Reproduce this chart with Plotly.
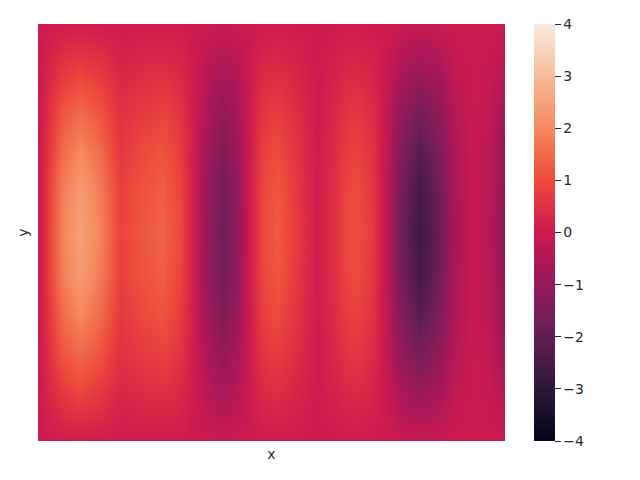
import plotly.graph_objects as go

# positions along each axis
x_grid = [0, 12, 24, 42, 62, 82, 102, 125, 142, 157, 169, 185, 200, 212, 224, 239, 254, 279, 297, 309, 320, 335, 350, 362, 382, 402, 415, 435, 452, 467]
y_grid = [0, 26, 56, 91, 126, 166, 208, 251, 291, 326, 361, 391, 417]

row_edge = [-0.01, 0.03, 0.06, 0.08, 0.06, 0.03, 0.03, 0.04, 0.03, 0.0, -0.03, -0.05, -0.03, 0.0, 0.03, 0.04, 0.03, 0.0, 0.02, 0.03, 0.03, 0.02, -0.01, -0.05, -0.08, -0.05, -0.02, 0.0, -0.01, -0.04]
row_a = [-0.02, 0.18, 0.38, 0.5, 0.38, 0.17, 0.23, 0.28, 0.19, -0.01, -0.2, -0.36, -0.21, 0.02, 0.19, 0.25, 0.17, 0.01, 0.11, 0.19, 0.21, 0.13, -0.08, -0.34, -0.54, -0.36, -0.14, -0.02, -0.08, -0.24]
row_b = [-0.04, 0.36, 0.76, 1.0, 0.76, 0.34, 0.46, 0.56, 0.38, -0.02, -0.4, -0.72, -0.42, 0.04, 0.38, 0.5, 0.34, 0.02, 0.22, 0.38, 0.42, 0.26, -0.16, -0.68, -1.08, -0.72, -0.28, -0.04, -0.16, -0.48]
row_c = [-0.06, 0.56, 1.18, 1.55, 1.18, 0.53, 0.71, 0.87, 0.59, -0.03, -0.62, -1.12, -0.65, 0.06, 0.59, 0.78, 0.53, 0.03, 0.34, 0.59, 0.65, 0.4, -0.25, -1.05, -1.67, -1.12, -0.43, -0.06, -0.25, -0.74]
row_d = [-0.08, 0.72, 1.5, 2.0, 1.5, 0.68, 0.92, 1.12, 0.76, -0.04, -0.8, -1.44, -0.84, 0.08, 0.76, 1.0, 0.68, 0.04, 0.44, 0.76, 0.84, 0.52, -0.32, -1.36, -2.16, -1.44, -0.56, -0.08, -0.32, -0.96]
row_e = [-0.1, 0.85, 1.8, 2.35, 1.8, 0.8, 1.1, 1.3, 0.9, -0.05, -0.95, -1.7, -1.0, 0.1, 0.9, 1.18, 0.8, 0.05, 0.5, 0.9, 1.0, 0.6, -0.38, -1.6, -2.55, -1.7, -0.65, -0.1, -0.38, -1.13]
row_mid = [-0.1, 0.9, 1.9, 2.5, 1.9, 0.85, 1.15, 1.4, 0.95, -0.05, -1.0, -1.8, -1.05, 0.1, 0.95, 1.25, 0.85, 0.05, 0.55, 0.95, 1.05, 0.65, -0.4, -1.7, -2.7, -1.8, -0.7, -0.1, -0.4, -1.2]

z_values = [row_edge, row_a, row_b, row_c, row_d, row_e, row_mid, row_e, row_d, row_c, row_b, row_a, row_edge]

cbar_ticks = [-4, -3, -2, -1, 0, 1, 2, 3, 4]

# rocket colormap
rocket = [
    [0, "#03051a"],
    [1 / 7, "#35193e"],
    [2 / 7, "#701f57"],
    [3 / 7, "#ad1759"],
    [0.5, "#cb1b4f"],
    [4 / 7, "#e13342"],
    [0.625, "#ec4b3c"],
    [5 / 7, "#f37651"],
    [0.75, "#f5895f"],
    [6 / 7, "#f6b48f"],
    [1, "#faebdd"],
]

text_color = "#262626"

fig = go.Figure(go.Heatmap(
    x=x_grid,
    y=y_grid,
    z=z_values,
    zmin=-4,
    zmax=4,
    zsmooth="best",
    colorscale=rocket,
    hoverinfo="skip",
    colorbar=dict(
        x=1.062,
        xanchor="left",
        xpad=0,
        ypad=0,
        y=0.5,
        yanchor="middle",
        len=1,
        thickness=21,
        outlinewidth=0,
        tickmode="array",
        tickvals=cbar_ticks,
        ticks="outside",
        ticklen=6,
        tickwidth=1.25,
        tickcolor=text_color,
        tickfont=dict(family="DejaVu Sans", size=14, color=text_color),
    ),
))

# page has an 8px body margin, so the figure is sized to fit inside it
fig.update_layout(
    width=632,
    height=472,
    margin=dict(l=30, r=135, t=16, b=39),
    paper_bgcolor="white",
    plot_bgcolor="white",
    font=dict(family="DejaVu Sans", size=14, color=text_color),
    xaxis=dict(
        range=[0, 467],
        showticklabels=False,
        showgrid=False,
        zeroline=False,
        ticks="",
        title=dict(text="x", standoff=8, font=dict(size=14, color=text_color)),
    ),
    yaxis=dict(
        range=[417, 0],
        showticklabels=False,
        showgrid=False,
        zeroline=False,
        ticks="",
        title=dict(text="y", standoff=5, font=dict(size=14, color=text_color)),
    ),
)

fig.write_html("out.html")
